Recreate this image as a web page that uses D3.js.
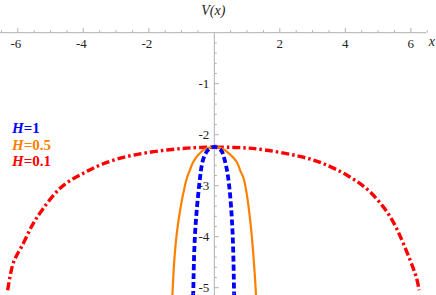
<!DOCTYPE html>
<html>
<head>
<meta charset="UTF-8">
<script src="https://d3js.org/d3.v7.min.js"></script>
<style>
  body { margin: 0; background: #fff; }
  svg { display: block; }
</style>
</head>
<body>
<div id="chart"></div>
<script>
  const width = 436, height = 295;
  const serif = "Liberation Serif";

  // H = 1 (blue, dashed)
  const blueX = [-0.65, -0.64, -0.59, -0.46, -0.36, -0.23, -0.11, 0, 0.11, 0.23, 0.33, 0.45, 0.56, 0.60, 0.61];
  const blueY = [-5.12, -5.0, -3.96, -2.98, -2.53, -2.33, -2.26, -2.24, -2.26, -2.33, -2.53, -2.98, -3.96, -5.0, -5.12];
  // H = 0.5 (orange, solid)
  const orangeX = [-1.28, -1.27, -1.15, -0.89, -0.76, -0.64, -0.39, -0.2, 0, 0.2, 0.38, 0.68, 0.80, 0.94, 1.14, 1.26, 1.27];
  const orangeY = [-5.15, -5.0, -3.96, -2.98, -2.72, -2.53, -2.33, -2.26, -2.24, -2.26, -2.33, -2.53, -2.72, -2.98, -3.96, -5.0, -5.15];
  // H = 0.1 (red, dash-dot)
  const redX = [-6.31, -6.14, -5.88, -5.58, -5.25, -4.71, -4.10, -3.39, -2.47, -1.45, -0.44, 0.63, 1.55, 2.57, 3.3, 4.04, 4.75, 5.36, 5.77, 6.13, 6.25];
  const redY = [-5.05, -4.52, -4.19, -3.80, -3.47, -3.05, -2.79, -2.57, -2.40, -2.30, -2.25, -2.25, -2.30, -2.42, -2.56, -2.79, -3.12, -3.6, -4.13, -4.72, -5.05];

  const xTicks = [-6, -4, -2, 2, 4, 6];
  const yTicks = [-1, -2, -3, -4, -5];
  const legendLabels = ["H=1", "H=0.5", "H=0.1"];

  const x = d3.scaleLinear().domain([-6.544, 6.769]).range([0, width]);
  const y = d3.scaleLinear().domain([0.641, -5.143]).range([0, height]);

  const svg = d3.select("#chart").append("svg")
      .attr("width", width)
      .attr("height", height);

  const axisColor = "#b0b0b0";

  // x axis along y = 0
  svg.append("line")
      .attr("x1", 0).attr("x2", x(6.47))
      .attr("y1", y(0)).attr("y2", y(0))
      .attr("stroke", axisColor).attr("stroke-width", 1);

  const xMinor = d3.range(-6.5, 6.51, 0.5).filter(v => v !== 0);
  svg.selectAll(".xtick")
      .data(xMinor)
      .enter().append("line")
      .attr("x1", d => x(d)).attr("x2", d => x(d))
      .attr("y1", y(0))
      .attr("y2", d => y(0) - (xTicks.includes(d) ? 4.5 : 2.5))
      .attr("stroke", axisColor);

  svg.selectAll(".xlabel")
      .data(xTicks)
      .enter().append("text")
      .style("font-family", serif)
      .style("font-size", "13px")
      .attr("fill", "#222")
      .attr("x", d => x(d) + (d < 0 ? -2 : 0))
      .attr("y", y(0) + 15)
      .attr("text-anchor", "middle")
      .text(d => d);

  // y axis along x = 0
  svg.append("line")
      .attr("x1", x(0)).attr("x2", x(0))
      .attr("y1", y(0)).attr("y2", height)
      .attr("stroke", axisColor).attr("stroke-width", 1);

  const yMinor = d3.range(-0.2, -5.15, -0.2).map(v => Math.round(v * 10) / 10);
  svg.selectAll(".ytick")
      .data(yMinor)
      .enter().append("line")
      .attr("x1", x(0))
      .attr("x2", d => x(0) + (yTicks.includes(d) ? 4.5 : 2.5))
      .attr("y1", d => y(d)).attr("y2", d => y(d))
      .attr("stroke", axisColor);

  svg.selectAll(".ylabel")
      .data(yTicks)
      .enter().append("text")
      .style("font-family", serif)
      .style("font-size", "13px")
      .attr("fill", "#222")
      .attr("x", x(0) - 5)
      .attr("y", d => y(d) + 4.5)
      .attr("text-anchor", "end")
      .text(d => d);

  svg.append("text")
      .style("font-family", serif)
      .style("font-size", "14px")
      .style("font-style", "italic")
      .attr("fill", "#222")
      .attr("x", x(0) - 1)
      .attr("y", 15)
      .attr("text-anchor", "middle")
      .text("V(x)");

  svg.append("text")
      .style("font-family", serif)
      .style("font-size", "14px")
      .style("font-style", "italic")
      .attr("fill", "#222")
      .attr("x", x(6.55))
      .attr("y", y(0) + 13)
      .text("x");

  // curves
  const line = d3.line()
      .x(d => x(d[0]))
      .y(d => y(d[1]))
      .curve(d3.curveNatural);

  const series = [
    { xs: redX, ys: redY, color: "#ff0000", width: 3.4, dash: "8,3,2.5,3" },
    { xs: orangeX, ys: orangeY, color: "#ff8000", width: 2.2, dash: null },
    { xs: blueX, ys: blueY, color: "#0000ff", width: 3.8, dash: "6,3" }
  ];

  svg.append("clipPath").attr("id", "clip")
      .append("rect").attr("x", 0).attr("y", 0).attr("width", width).attr("height", height);

  series.forEach(s => {
    svg.append("path")
        .datum(s.xs.map((v, i) => [v, s.ys[i]]))
        .attr("clip-path", "url(#clip)")
        .attr("fill", "none")
        .attr("stroke", s.color)
        .attr("stroke-width", s.width)
        .attr("stroke-dasharray", s.dash)
        .attr("d", line);
  });

  // legend
  const legendColors = ["#0000ff", "#ff8000", "#ff0000"];
  const legend = svg.selectAll(".legend")
      .data(legendLabels)
      .enter().append("text")
      .style("font-family", serif)
      .style("font-size", "15px")
      .style("font-weight", "bold")
      .attr("x", 12)
      .attr("y", (d, i) => 133 + i * 16.5)
      .attr("fill", (d, i) => legendColors[i]);

  legend.append("tspan").style("font-style", "italic").text("H");
  legend.append("tspan").text(d => d.slice(1));
</script>
</body>
</html>
